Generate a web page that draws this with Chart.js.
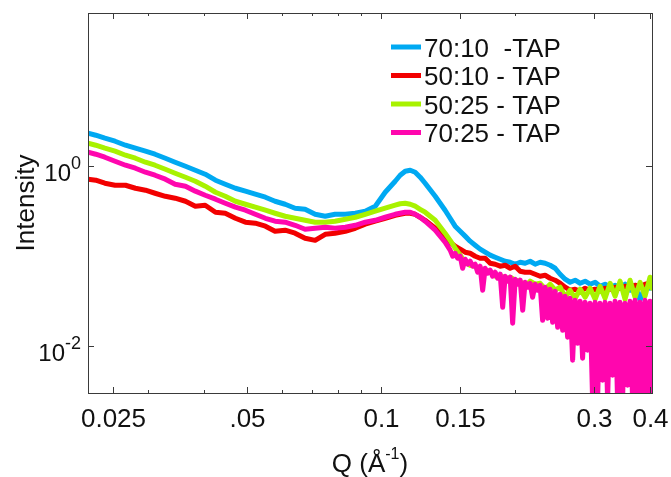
<!DOCTYPE html>
<html lang="en">
<head>
  <meta charset="UTF-8" />
  <title>Intensity vs Q</title>
  <script src="https://cdn.jsdelivr.net/npm/chart.js"></script>
  <style>
    html, body { margin: 0; padding: 0; background: #fff; }
    #caixa { width: 671px; height: 477px; }
  </style>
</head>
<body>
  <div id="caixa"><canvas id="grafico"></canvas></div>

  <script>
    // valores de Q (1/A): parte baixa comum, parte alta normal e parte alta densa (70:25)
    const qBaixo = [0.0220, 0.0229, 0.0240, 0.0253, 0.0267, 0.0281, 0.0296, 0.0311, 0.0328, 0.0345,
      0.0364, 0.0383, 0.0403, 0.0425, 0.0447, 0.0471, 0.0496, 0.0522, 0.0550, 0.0578,
      0.0609, 0.0641, 0.0675, 0.0711, 0.0749, 0.0788, 0.0831, 0.0875, 0.0921, 0.0970,
      0.1021, 0.1075, 0.1103, 0.1132, 0.1162, 0.1192, 0.1223, 0.1255, 0.1322, 0.1391];
    const qAlto = [0.1428, 0.1465, 0.1504, 0.1543, 0.1583, 0.1625, 0.1667, 0.1711, 0.1756, 0.1802,
      0.1849, 0.1897, 0.1947, 0.1998, 0.2050, 0.2103, 0.2158, 0.2215, 0.2273, 0.2332,
      0.2393, 0.2456, 0.2520, 0.2586, 0.2653, 0.2723, 0.2794, 0.2867, 0.2942, 0.3019,
      0.3097, 0.3178, 0.3262, 0.3347, 0.3434, 0.3524, 0.3616, 0.3711, 0.3808, 0.3907,
      0.4009, 0.405];
    const qDenso = [0.1428, 0.1447, 0.1465, 0.1484, 0.1504, 0.1523, 0.1543, 0.1563, 0.1583, 0.1604,
      0.1625, 0.1646, 0.1667, 0.1689, 0.1711, 0.1733, 0.1756, 0.1778, 0.1802, 0.1825,
      0.1849, 0.1873, 0.1897, 0.1922, 0.1947, 0.1972, 0.1998, 0.2024, 0.2050, 0.2077,
      0.2103, 0.2131, 0.2158, 0.2186, 0.2215, 0.2243, 0.2273, 0.2302, 0.2332, 0.2362,
      0.2393, 0.2424, 0.2456, 0.2488, 0.2520, 0.2553, 0.2586, 0.2619, 0.2653, 0.2688,
      0.2723, 0.2758, 0.2794, 0.2830, 0.2867, 0.2904, 0.2942, 0.2980, 0.3019, 0.3058,
      0.3097, 0.3138, 0.3178, 0.3220, 0.3262, 0.3304, 0.3347, 0.3390, 0.3434, 0.3479,
      0.3524, 0.3570, 0.3616, 0.3663, 0.3711, 0.3759, 0.3808, 0.3857, 0.3907, 0.3958,
      0.4009, 0.405];

    // intensidades
    const i7010 = [2.308, 2.194, 2.031, 1.881, 1.698, 1.573, 1.457, 1.349, 1.218, 1.099,
      0.992, 0.896, 0.809, 0.694, 0.626, 0.565, 0.524, 0.485, 0.449, 0.405,
      0.375, 0.339, 0.330, 0.290, 0.276, 0.290, 0.290, 0.298, 0.314, 0.357,
      0.510, 0.676, 0.788, 0.873, 0.896, 0.851, 0.749, 0.642, 0.460, 0.322,
      0.262, 0.214, 0.188, 0.166, 0.146, 0.1315, 0.119, 0.110, 0.102, 0.0967,
      0.0919, 0.0873, 0.0851, 0.0809, 0.0851, 0.0830, 0.0873, 0.0809, 0.0851, 0.0830,
      0.0788, 0.0730, 0.0626, 0.0551, 0.0510, 0.0537, 0.0497, 0.0524, 0.0485, 0.0510,
      0.0460, 0.0485, 0.0449, 0.0472, 0.0438, 0.0485, 0.0416, 0.0472, 0.0322, 0.0460,
      0.0438, 0.0460];
    const i5010 = [0.712, 0.694, 0.642, 0.610, 0.610, 0.565, 0.537, 0.497, 0.460, 0.438,
      0.405, 0.357, 0.366, 0.306, 0.298, 0.262, 0.237, 0.231, 0.214, 0.188,
      0.193, 0.179, 0.157, 0.149, 0.174, 0.179, 0.188, 0.203, 0.225, 0.243,
      0.262, 0.283, 0.290, 0.298, 0.298, 0.290, 0.269, 0.249, 0.203, 0.161,
      0.142, 0.128, 0.119, 0.110, 0.107, 0.0992, 0.0943, 0.0943, 0.0830, 0.0809,
      0.0769, 0.0788, 0.0730, 0.0769, 0.0676, 0.0659, 0.0659, 0.0626, 0.0595, 0.0610,
      0.0565, 0.0537, 0.0497, 0.0449, 0.0416, 0.0427, 0.0405, 0.0438, 0.0416, 0.0427,
      0.0416, 0.0438, 0.0427, 0.0449, 0.0438, 0.0460, 0.0449, 0.0472, 0.0460, 0.0485,
      0.0497, 0.0485];
    const i5025 = [1.787, 1.698, 1.573, 1.457, 1.315, 1.218, 1.099, 1.018, 0.919, 0.830,
      0.749, 0.676, 0.595, 0.510, 0.460, 0.405, 0.375, 0.348, 0.322, 0.298,
      0.276, 0.262, 0.249, 0.237, 0.237, 0.243, 0.256, 0.269, 0.290, 0.314,
      0.339, 0.366, 0.380, 0.385, 0.375, 0.357, 0.330, 0.306, 0.249, 0.179,
      0.149, 0.122, 0.102, 0.0851, 0.0788, 0.0769, 0.0730, 0.0694, 0.0676, 0.0595,
      0.0610, 0.0551, 0.0580, 0.0537, 0.0524, 0.0460, 0.0524, 0.0485, 0.0497, 0.0427,
      0.0485, 0.0416, 0.0449, 0.0348, 0.0416, 0.0339, 0.0427, 0.0348, 0.0438, 0.0330,
      0.0460, 0.0339, 0.0497, 0.0357, 0.0524, 0.0330, 0.0537, 0.0348, 0.0510, 0.0357,
      0.0580, 0.0438];
    const i7025 = [1.420, 1.349, 1.249, 1.128, 1.018, 0.943, 0.851, 0.788, 0.712, 0.626,
      0.595, 0.524, 0.472, 0.427, 0.385, 0.348, 0.322, 0.290, 0.262, 0.243,
      0.237, 0.219, 0.198, 0.203, 0.208, 0.203, 0.208, 0.219, 0.237, 0.249,
      0.269, 0.290, 0.298, 0.306, 0.306, 0.290, 0.269, 0.243, 0.193, 0.142,
      0.116, 0.0992, 0.107, 0.0943, 0.0992, 0.0730, 0.0919, 0.0809, 0.0873, 0.0769,
      0.0809, 0.0659, 0.0769, 0.0416, 0.0730, 0.0642, 0.0694, 0.0595, 0.0659, 0.0565,
      0.0626, 0.0269, 0.0595, 0.0524, 0.0580, 0.0179, 0.0551, 0.0485, 0.0537, 0.0249,
      0.0510, 0.0449, 0.0497, 0.0348, 0.0485, 0.0416, 0.0472, 0.0193, 0.0449, 0.0203,
      0.0427, 0.0183, 0.0405, 0.0161, 0.0375, 0.0149, 0.0357, 0.0125, 0.0339, 0.00694,
      0.0322, 0.0107, 0.0314, 0.00730, 0.0306, 0.00896, 0.0298, 0.0025, 0.0306, 0.0025,
      0.0298, 0.00416, 0.0306, 0.0025, 0.0298, 0.00472, 0.0314, 0.0025, 0.0306, 0.0025,
      0.0298, 0.00366, 0.0314, 0.0025, 0.0322, 0.0025, 0.0306, 0.0025, 0.0322, 0.0025,
      0.0314, 0.0025];

    const nomes = ['70:10  -TAP', '50:10 - TAP', '50:25 - TAP', '70:25 - TAP'];
    const cores = ['#00A9F2', '#F20000', '#A8F200', '#FF06AE'];

    // ticks dos eixos
    const ticksX = [0.025, 0.03, 0.04, 0.05, 0.06, 0.07, 0.08, 0.09, 0.1, 0.15, 0.2, 0.3, 0.4];
    const rotulosX = ['0.025', '', '', '.05', '', '', '', '', '0.1', '0.15', '', '0.3', '0.4'];
    const ticksY = [0.01, 1];
    const expoentesY = ['-2', '0'];

    const corEixo = '#3a3a3a';
    const fonte = '"Liberation Sans", Arial, sans-serif';

    // desenha moldura, ticks para dentro, rótulos e legenda
    const moldura = {
      id: 'moldura',
      afterDraw(chart) {
        const { ctx, chartArea: a, scales: { x, y } } = chart;
        ctx.save();
        ctx.strokeStyle = corEixo;
        ctx.lineWidth = 1;
        ctx.strokeRect(a.left + 0.5, a.top + 0.5, a.right - a.left, a.bottom - a.top);

        ctx.fillStyle = '#111';
        ctx.font = '26px ' + fonte;
        ctx.textAlign = 'center';
        ctx.textBaseline = 'alphabetic';
        ticksX.forEach((v, i) => {
          const px = Math.round(x.getPixelForValue(v)) + 0.5;
          const len = rotulosX[i] ? 6 : 3;
          ctx.beginPath();
          ctx.moveTo(px, a.bottom); ctx.lineTo(px, a.bottom - len);
          ctx.moveTo(px, a.top); ctx.lineTo(px, a.top + len);
          ctx.stroke();
          if (rotulosX[i]) ctx.fillText(rotulosX[i], px, a.bottom + 34);
        });

        ticksY.forEach((v, i) => {
          const py = Math.round(y.getPixelForValue(v)) + 0.5;
          ctx.beginPath();
          ctx.moveTo(a.left, py); ctx.lineTo(a.left + 6, py);
          ctx.moveTo(a.right, py); ctx.lineTo(a.right - 6, py);
          ctx.stroke();
          // 10 com expoente
          ctx.textAlign = 'right';
          ctx.font = '18px ' + fonte;
          const wSup = ctx.measureText(expoentesY[i]).width;
          ctx.fillText(expoentesY[i], a.left - 7, py + 2);
          ctx.font = '24px ' + fonte;
          ctx.fillText('10', a.left - 7 - wSup, py + 14);
        });

        // título do eixo x: Q (Å-1)
        ctx.textAlign = 'left';
        ctx.font = '26px ' + fonte;
        const p1 = 'Q (Å', p3 = ')';
        const w1 = ctx.measureText(p1).width, w3 = ctx.measureText(p3).width;
        ctx.font = '16px ' + fonte;
        const w2 = ctx.measureText('-1').width;
        const xt = (a.left + a.right) / 2 - (w1 + w2 + w3) / 2;
        ctx.font = '26px ' + fonte;
        ctx.fillText(p1, xt, 472);
        ctx.font = '16px ' + fonte;
        ctx.fillText('-1', xt + w1, 459);
        ctx.font = '26px ' + fonte;
        ctx.fillText(p3, xt + w1 + w2, 472);

        // título do eixo y
        ctx.save();
        ctx.translate(34, (a.top + a.bottom) / 2);
        ctx.rotate(-Math.PI / 2);
        ctx.textAlign = 'center';
        ctx.fillText('Intensity', 0, 0);
        ctx.restore();

        // legenda
        const yLeg = [47, 75.5, 104, 132.5];
        nomes.forEach((n, i) => {
          ctx.strokeStyle = cores[i];
          ctx.lineWidth = 5;
          ctx.beginPath();
          ctx.moveTo(391, yLeg[i]); ctx.lineTo(421, yLeg[i]);
          ctx.stroke();
          ctx.fillStyle = '#111';
          ctx.textAlign = 'left';
          ctx.font = '26px ' + fonte;
          ctx.fillText(n, 424, yLeg[i] + 9.5);
        });
        ctx.restore();
      }
    };

    const qNormal = qBaixo.concat(qAlto);
    const qRosa = qBaixo.concat(qDenso);
    const series = [
      { q: qNormal, v: i7010 },
      { q: qNormal, v: i5010 },
      { q: qNormal, v: i5025 },
      { q: qRosa, v: i7025 }
    ];
    const ordem = [4, 3, 2, 1]; // a última curva fica por cima

    new Chart(document.getElementById('grafico'), {
      type: 'line',
      data: {
        datasets: series.map((s, k) => ({
          label: nomes[k],
          data: s.q.map((v, i) => ({ x: v, y: s.v[i] })),
          borderColor: cores[k],
          backgroundColor: cores[k],
          borderWidth: 5,
          pointRadius: 0,
          tension: 0,
          borderJoinStyle: 'round',
          borderCapStyle: 'round',
          order: ordem[k],
          clip: 0
        }))
      },
      options: {
        responsive: true,
        maintainAspectRatio: false,
        animation: false,
        layout: { padding: { left: 88, right: 19, top: 13, bottom: 84 } },
        plugins: { legend: { display: false }, tooltip: { enabled: false } },
        scales: {
          x: { type: 'logarithmic', min: 0.022, max: 0.405, display: false },
          y: { type: 'logarithmic', min: 0.003, max: 50, display: false }
        }
      },
      plugins: [moldura]
    });
  </script>
</body>
</html>
